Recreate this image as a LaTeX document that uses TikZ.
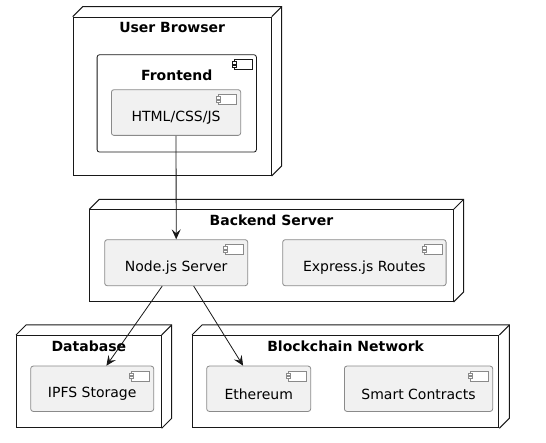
\documentclass[tikz,border=0pt]{standalone}
\usepackage{fontspec}
\setmainfont{DejaVu Sans}
\usetikzlibrary{arrows.meta}
\definecolor{compfill}{HTML}{F1F1F1}
\definecolor{compline}{HTML}{8A8A8A}
\definecolor{ink}{HTML}{181818}
\tikzset{
  frame/.style={draw=ink, line width=1pt, fill=white, inner sep=0pt, anchor=north west, rectangle},
  depth3d/.style={draw=ink, line width=1pt, line join=miter},
  comp/.style={draw=compline, line width=0.8pt, fill=compfill, rounded corners=2.5pt, inner sep=0pt, anchor=north west, rectangle},
  container/.style={draw=ink, line width=0.8pt, fill=white, rounded corners=2.5pt, inner sep=0pt, anchor=north west, rectangle},
  title/.style={font=\fontsize{14}{16}\selectfont\bfseries, inner sep=0pt, text=black},
  lbl/.style={font=\fontsize{14}{16}\selectfont, inner sep=0pt, text=black},
  flow/.style={draw=ink, line width=0.8pt, -{Stealth[length=10pt,width=9pt,inset=4pt]}},
}
% deployment node: name, x, y, width, height
\newcommand\deplnode[5]{%
  \node[frame, minimum width=#4pt, minimum height=#5pt] (#1) at (#2,#3) {};
  \draw[depth3d] (#1.north west) -- ++(10,-10) -- ([shift={(10,-10)}]#1.north east)
     -- ([shift={(10,-10)}]#1.south east) -- (#1.south east);
  \draw[depth3d] (#1.north east) -- ++(10,-10);
}
% component icon: node name, colour
\newcommand\compicon[2]{%
  \begin{scope}[shift={(#1.north east)}]
    \draw[#2, line width=0.7pt, fill=white] (-22.6,5.2) rectangle (-4.6,15.2);
    \draw[#2, line width=0.7pt, fill=white] (-24.6,7.5) rectangle (-20.6,9.7);
    \draw[#2, line width=0.7pt, fill=white] (-24.6,10.9) rectangle (-20.6,13.1);
  \end{scope}}
\begin{document}
\begin{tikzpicture}[x=1pt,y=-1pt]
\useasboundingbox (0,0) rectangle (546,443);

% User Browser
\deplnode{ub}{72.7}{16.7}{198}{158.3}
\node[title] (ubt) at ([yshift=-10.5]ub.north) {User Browser};
\node[container, minimum width=159.3pt, minimum height=97.4pt] (fe) at (96.7,54.3) {};
\compicon{fe}{ink}
\node[title] (fet) at ([yshift=-20.7]fe.north) {Frontend};
\node[comp, minimum width=129.3pt, minimum height=45.7pt] (html) at (111,89.3) {};
\compicon{html}{compline}
\node[lbl] (htmlt) at ([yshift=-28]html.north) {HTML/CSS/JS};

% Backend Server
\deplnode{be}{89.3}{209.3}{363.4}{91.7}
\node[title] (bet) at ([yshift=-10.7]be.north) {Backend Server};
\node[comp, minimum width=143pt, minimum height=46pt] (nodejs) at (104.3,239.3) {};
\compicon{nodejs}{compline}
\node[lbl] (nodejst) at ([yshift=-28]nodejs.north) {Node.js Server};
\node[comp, minimum width=163.4pt, minimum height=46pt] (express) at (282.3,239.3) {};
\compicon{express}{compline}
\node[lbl] (expresst) at ([yshift=-28]express.north) {Express.js Routes};

% Database
\deplnode{db}{16}{335}{144.7}{92.3}
\node[title] (dbt) at ([yshift=-11.5]db.north) {Database};
\node[comp, minimum width=123pt, minimum height=45.3pt] (ipfs) at (30.3,365.7) {};
\compicon{ipfs}{compline}
\node[lbl] (ipfst) at ([yshift=-28.5]ipfs.north) {IPFS Storage};

% Blockchain Network
\deplnode{bc}{192}{335}{306.3}{92.3}
\node[title] (bct) at ([yshift=-11.5]bc.north) {Blockchain Network};
\node[comp, minimum width=104pt, minimum height=45.3pt] (eth) at (206.3,365.7) {};
\compicon{eth}{compline}
\node[lbl] (etht) at ([yshift=-28.5]eth.north) {Ethereum};
\node[comp, minimum width=148.3pt, minimum height=45.3pt] (smart) at (344,365.7) {};
\compicon{smart}{compline}
\node[lbl] (smartt) at ([yshift=-28.5]smart.north) {Smart Contracts};

% connectors
\draw[flow] (html.south) -- (nodejs.north);
\draw[flow] ([xshift=-14pt]nodejs.south) -- ([xshift=14.2pt]ipfs.north);
\draw[flow] ([xshift=17.5pt]nodejs.south) -- ([xshift=-15.6pt]eth.north);
\end{tikzpicture}
\end{document}
